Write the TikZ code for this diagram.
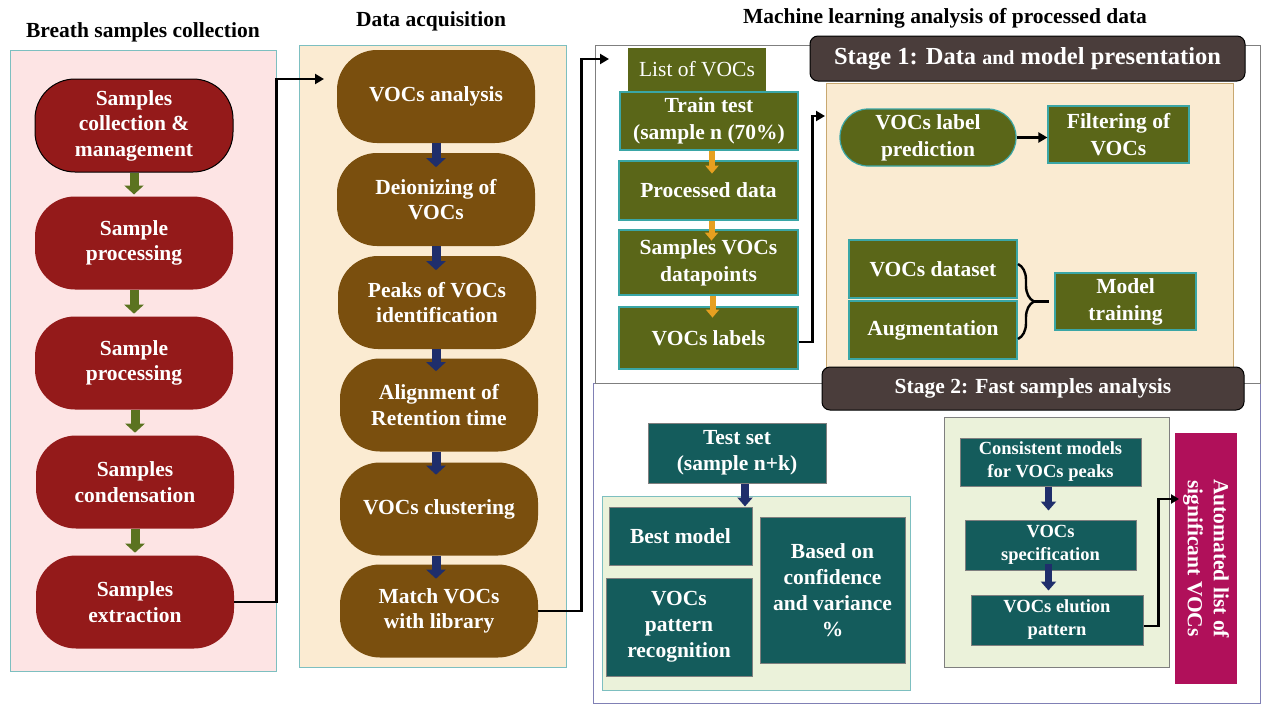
\documentclass[tikz,border=0pt]{standalone}
\usepackage{fontspec}
\setmainfont{Liberation Serif}
\usetikzlibrary{arrows.meta,decorations.pathreplacing,calc}
\definecolor{pinkbg}{HTML}{FDE4E4}
\definecolor{tealline}{HTML}{7DBFC0}
\definecolor{redpill}{HTML}{941A1A}
\definecolor{greenarr}{HTML}{5B7320}
\definecolor{creambg}{HTML}{FBEBD2}
\definecolor{brownpill}{HTML}{7A4F0E}
\definecolor{navyarr}{HTML}{1F2E6B}
\definecolor{olivebox}{HTML}{5A6618}
\definecolor{tealborder}{HTML}{3AA6A6}
\definecolor{orangearr}{HTML}{E6A020}
\definecolor{stagehead}{HTML}{4A3D3B}
\definecolor{cream2}{HTML}{FAEBD2}
\definecolor{cream2line}{HTML}{C8A870}
\definecolor{darkteal}{HTML}{145C5C}
\definecolor{lightgreen}{HTML}{EBF2DA}
\definecolor{magentabox}{HTML}{B0105A}
\definecolor{grayline}{HTML}{7F7F7F}
\definecolor{blueline}{HTML}{8080B5}
\begin{document}
\begin{tikzpicture}[x=1pt,y=-1pt,
  title/.style={font=\bfseries\fontsize{21.5}{24}\selectfont, text=black, inner sep=0},
  panelbox/.style={inner sep=0, line width=1pt},
  pillbox/.style={rounded corners=40pt, text=white, align=center, inner sep=0,
    font=\bfseries\fontsize{21.5}{25.5}\selectfont, minimum width=198pt, minimum height=93pt},
  redpillbox/.style={pillbox, fill=redpill},
  brownpillbox/.style={pillbox, fill=brownpill},
  olivebx/.style={fill=olivebox, draw=tealborder, line width=1.2pt, text=white, align=center,
    inner sep=0, font=\bfseries\fontsize{21.5}{27}\selectfont},
  tealbx/.style={fill=darkteal, draw=grayline, line width=1pt, text=white, align=center,
    inner sep=0, font=\bfseries\fontsize{21.5}{26}\selectfont},
  smalltealbx/.style={tealbx, font=\bfseries\fontsize{18.5}{23}\selectfont},
  stagebx/.style={fill=stagehead, draw=black, line width=1pt, rounded corners=8pt, text=white,
    inner sep=0, font=\bfseries\fontsize{24.5}{27}\selectfont},
  garrow/.style={draw=greenarr, line width=9pt, -{Triangle[width=19pt,length=9pt]}},
  narrow/.style={draw=navyarr, line width=9pt, -{Triangle[width=19pt,length=9pt]}},
  oarrow/.style={draw=orangearr, line width=6pt, -{Triangle[width=13pt,length=8pt]}},
  conn/.style={draw=black, line width=2.6pt, -{Triangle[width=10pt,length=9pt]}},
]
\useasboundingbox (0,0) rectangle (1262,704);
\fill[white] (0,0) rectangle (1262,704);

% ---------- panels ----------
\node[panelbox, fill=pinkbg, draw=tealline, minimum width=266pt, minimum height=621pt] (p1) at (143,360.5) {};
\node[panelbox, fill=creambg, draw=tealline, minimum width=267pt, minimum height=622pt] (p2) at (432.5,356) {};
\node[panelbox, draw=blueline, minimum width=667pt, minimum height=320pt] (p4) at (926.5,543) {};
\node[panelbox, draw=grayline, minimum width=665pt, minimum height=338pt] (p3) at (927.5,214) {};

\node[title] (t1) at (143,32) {Breath samples collection};
\node[title] (t2) at (431,21) {Data acquisition};
\node[title] (t3) at (945,18) {Machine learning analysis of processed data};

% ---------- breath samples ----------
\node[redpillbox, draw=black, line width=1pt] (r1) at (134,125.5) {Samples\\collection \&\\management};
\node[redpillbox] (r2) at (134,243) {Sample\\processing};
\node[redpillbox] (r3) at (134,363) {Sample\\processing};
\node[redpillbox] (r4) at (135,482) {Samples\\condensation};
\node[redpillbox] (r5) at (135,602) {Samples\\extraction};
\draw[garrow] (r1.south) -- ++(0,22);
\draw[garrow] (r2.south) -- ++(0,24);
\draw[garrow] ([xshift=1pt]r3.south) -- ++(0,23);
\draw[garrow] (r4.south) -- ++(0,24);

\coordinate (a1) at (324,79);
\draw[conn] (r5.east) -- ++(42,0) |- (a1);

% ---------- data acquisition ----------
\node[brownpillbox] (d1) at (436,96.5) {VOCs analysis};
\node[brownpillbox] (d2) at (436,199.5) {Deionizing of\\VOCs};
\node[brownpillbox] (d3) at (437,302.5) {Peaks of VOCs\\identification};
\node[brownpillbox] (d4) at (439,405) {Alignment of\\Retention time};
\node[brownpillbox] (d5) at (439,509) {VOCs clustering};
\node[brownpillbox] (d6) at (439,611) {Match VOCs\\with library};
\draw[narrow] (d1.south) -- ++(0,24);
\draw[narrow] (d2.south) -- ++(0,24);
\draw[narrow] ([xshift=-1pt]d3.south) -- ++(0,22);
\draw[narrow] ([xshift=-3pt]d4.south) -- ++(0,23);
\draw[narrow] ([xshift=-3pt]d5.south) -- ++(0,23);

\coordinate (a2) at (609,59);
\draw[conn] (d6.east) -- ++(43,0) |- (a2);

% ---------- ML stage 1 ----------
\node[fill=olivebox, text=white, inner sep=0, minimum width=138pt, minimum height=43pt,
  font=\fontsize{21.5}{24}\selectfont] (lv) at (697,69.5) {List of VOCs};
\node[olivebx, minimum width=178pt, minimum height=58pt] (tt) at (709,121) {Train test\\(sample n (70\%)};
\node[olivebx, minimum width=179pt, minimum height=59pt] (pd) at (708.5,190.5) {Processed data};
\node[olivebx, minimum width=179pt, minimum height=65pt] (sv) at (708.5,262.5) {Samples VOCs\\datapoints};
\node[olivebx, minimum width=179pt, minimum height=62pt] (vl) at (708.5,338) {VOCs labels};
\draw[oarrow] ([xshift=3pt]tt.south) -- ++(0,23);
\draw[oarrow] ([xshift=3pt]pd.south) -- ++(0,20);
\draw[oarrow] ([xshift=4pt]sv.south) -- ++(0,22);

\node[stagebx, minimum width=435pt, minimum height=45pt] (s1) at (1027.5,58.5)
  {Stage 1: Data {\fontsize{20}{22}\selectfont and} model presentation};
\node[panelbox, fill=cream2, draw=cream2line, minimum width=407pt, minimum height=284pt] (c1) at (1029.5,225) {};

\coordinate (a3) at (825,116);
\draw[conn] ([yshift=-4pt]vl.east) -- ++(14,0) |- (a3);

\node[olivebx, rounded corners=28pt, minimum width=176pt, minimum height=57pt] (lp) at (928,137.5) {VOCs label\\prediction};
\node[olivebx, minimum width=141pt, minimum height=57pt] (fv) at (1118.5,134.5) {Filtering of\\VOCs};
\draw[conn] (lp.east) -- (lp.east -| fv.west);

\node[olivebx, minimum width=168pt, minimum height=58pt] (vd) at (933,269) {VOCs dataset};
\node[olivebx, minimum width=168pt, minimum height=58pt] (ag) at (933,330) {Augmentation};
\node[olivebx, minimum width=141pt, minimum height=57pt] (mt) at (1125.5,301.5) {Model\\training};
\coordinate (b1) at (1018,264);
\coordinate (b2) at (1018,339);
\draw[line width=2.4pt, decorate, decoration={brace, amplitude=16pt}] (b1) -- (b2);
\coordinate (b3) at (1034,301.5);
\draw[line width=2.4pt] (b3) -- ++(15,0);

% ---------- stage 2 ----------
\node[stagebx, minimum width=422pt, minimum height=43pt, font=\bfseries\fontsize{21.5}{24}\selectfont] (s2) at (1033,388.5)
  {Stage 2: Fast samples analysis};

\node[tealbx, minimum width=178pt, minimum height=60pt] (ts) at (737,453) {Test set\\(sample n+k)};
\node[panelbox, fill=lightgreen, draw=tealline, minimum width=308pt, minimum height=194pt] (g1) at (756,593) {};
\node[tealbx, minimum width=143pt, minimum height=58pt] (bm) at (680.5,536) {Best model};
\node[tealbx, minimum width=146pt, minimum height=98pt] (pr) at (679,627) {VOCs\\pattern\\recognition};
\node[tealbx, minimum width=145pt, minimum height=146pt] (bo) at (832.5,590) {Based on\\confidence\\and variance\\\%};
\draw[draw=navyarr, line width=8pt, -{Triangle[width=15pt,length=9pt]}] ([xshift=8pt]ts.south) -- ++(0,23);

\node[panelbox, fill=lightgreen, draw=grayline, minimum width=225pt, minimum height=250pt] (g2) at (1056.5,542) {};
\node[smalltealbx, minimum width=181pt, minimum height=48pt] (cm) at (1050.5,462) {Consistent models\\for VOCs peaks};
\node[smalltealbx, minimum width=171pt, minimum height=50pt] (sp) at (1050.5,545) {VOCs\\specification};
\node[smalltealbx, minimum width=172pt, minimum height=50pt] (el) at (1057,620) {VOCs elution\\pattern};
\draw[draw=navyarr, line width=7pt, -{Triangle[width=15pt,length=9pt]}] ([xshift=-2pt]cm.south) -- ++(0,24);
\draw[draw=navyarr, line width=7pt, -{Triangle[width=15pt,length=9pt]}] ([xshift=-2pt,yshift=7pt]cm.south |- sp.south) -- ++(0,27);

\node[fill=magentabox, rotate=-90, minimum width=251pt, minimum height=62pt, inner sep=0, text=white, align=center,
  font=\bfseries\fontsize{21.5}{26}\selectfont] (au) at (1206,558.5) {Automated list of\\significant VOCs};
\coordinate (a4) at (1179,499);
\draw[draw=black, line width=2.6pt, -{Triangle[width=9pt,length=8pt]}] ([yshift=-6pt]el.east) -- ++(15,0) |- (a4);
\end{tikzpicture}
\end{document}
